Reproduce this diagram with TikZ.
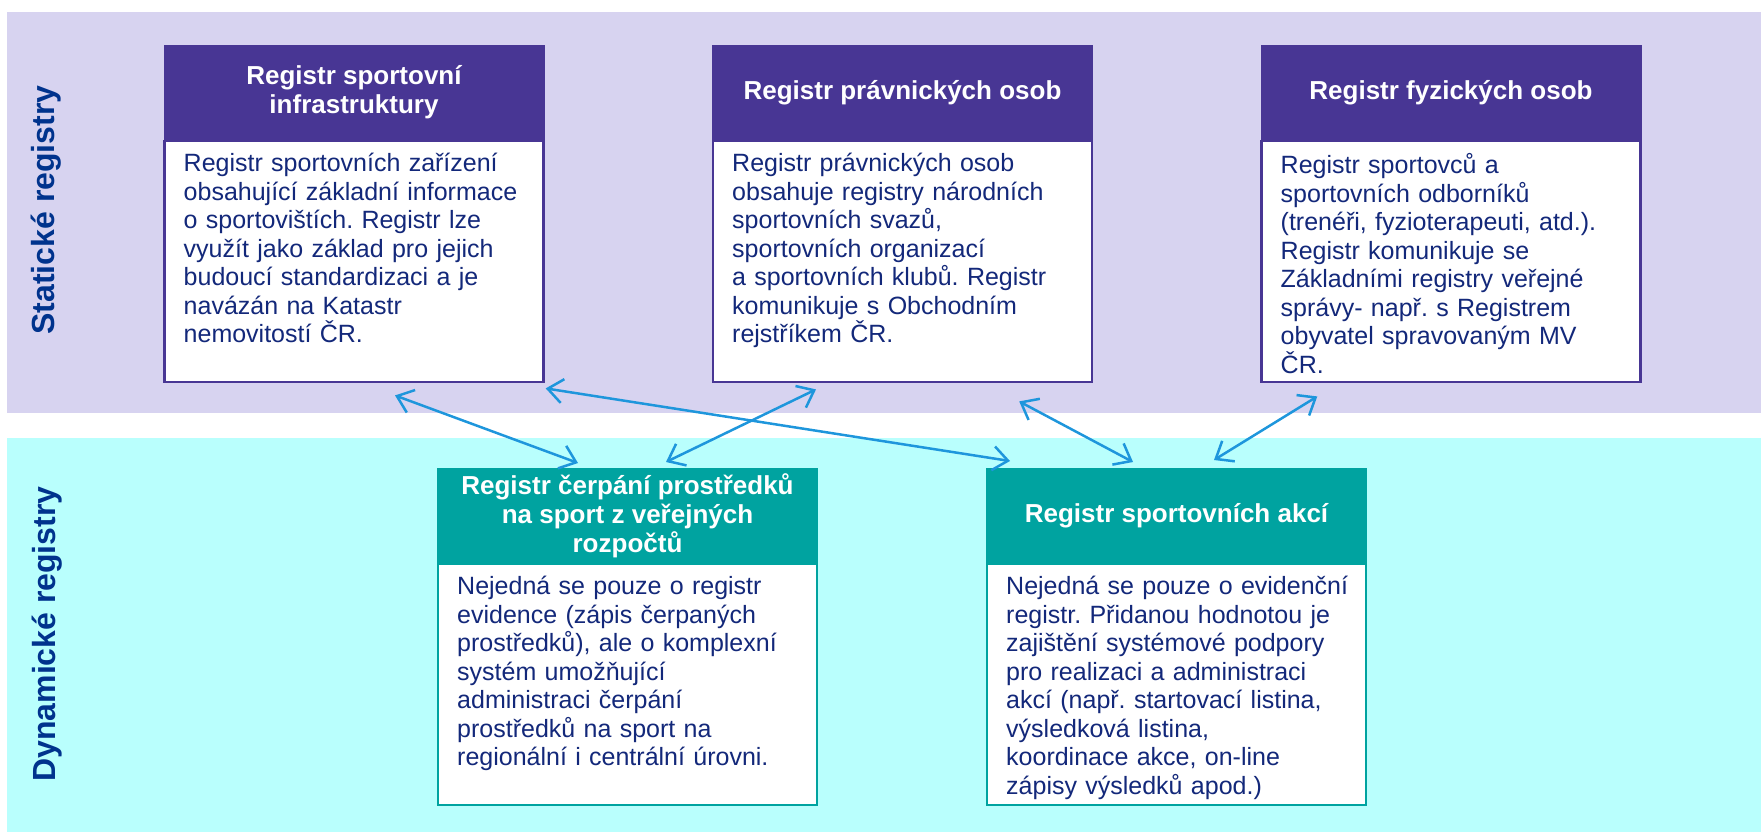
\documentclass[tikz,border=0pt]{standalone}
\usepackage{fontspec}
\setmainfont{Liberation Sans}
\usepackage{xcolor}
\usetikzlibrary{arrows.meta, positioning}
\definecolor{bandLav}{HTML}{D7D3F0}
\definecolor{bandCyan}{HTML}{B9FFFD}
\definecolor{regPurple}{HTML}{483694}
\definecolor{regTeal}{HTML}{00A3A0}
\definecolor{linkBlue}{HTML}{1E96DC}
\definecolor{textNavy}{HTML}{13287A}
\definecolor{labelBlue}{HTML}{00338D}
\frenchspacing
\hyphenpenalty=10000

\begin{document}
\begin{tikzpicture}[
  x=0.5pt, y=-0.5pt,
  head/.style={draw, line width=1pt, minimum width=189.5pt, minimum height=46.5pt, align=center, text=white, inner sep=2pt, font=\fontsize{13pt}{14.5pt}\selectfont\bfseries},
  stathead/.style={head, fill=regPurple, draw=regPurple},
  dynhead/.style={head, fill=regTeal, draw=regTeal},
  body/.style={draw, fill=white, line width=1.2pt, minimum width=189.5pt, minimum height=120.5pt},
  statbody/.style={body, draw=regPurple},
  dynbody/.style={body, draw=regTeal},
  bodytext/.style={anchor=north west, text width=182pt, align=left, inner xsep=10pt, inner ysep=6.5pt, text=textNavy, font=\fontsize{12.5pt}{14.25pt}\selectfont},
  bandlabel/.style={rotate=90, text=labelBlue, font=\fontsize{16pt}{18pt}\selectfont\bfseries},
  link/.style={<->, >={Straight Barb[length=7.5pt, width=12pt]}, draw=linkBlue, line width=1.25pt}
]
\useasboundingbox (0,0) rectangle (1761,832);

% Background bands
\fill[bandLav] (7,12) rectangle (1761,413);
\fill[bandCyan] (7,438) rectangle (1761,832);
\node[bandlabel] (staticLabel) at (46,210) {Statické registry};
\node[bandlabel] (dynamicLabel) at (47,634) {Dynamické registry};

% Top row: static registers
\node[stathead] (infraHead) at (354,92.5) {Registr sportovní\\infrastruktury};
\node[statbody, below=0pt of infraHead] (infraBody) {};
\node[bodytext] (infraText) at (infraBody.north west) {Registr sportovních zařízení\\obsahující základní informace\\o sportovištích. Registr lze\\využít jako základ pro jejich\\budoucí standardizaci a je\\navázán na Katastr\\nemovitostí ČR.};

\node[stathead] (legalHead) at (902.5,92.5) {Registr právnických osob};
\node[statbody, below=0pt of legalHead] (legalBody) {};
\node[bodytext] (legalText) at (legalBody.north west) {Registr právnických osob\\obsahuje registry národních\\sportovních svazů,\\sportovních organizací\\a sportovních klubů. Registr\\komunikuje s Obchodním\\rejstříkem ČR.};

\node[stathead] (personHead) at (1451,92.5) {Registr fyzických osob};
\node[statbody, below=0pt of personHead] (personBody) {};
\node[bodytext] (personText) at (personBody.north west) {Registr sportovců a\\sportovních odborníků\\(trenéři, fyzioterapeuti, atd.).\\Registr komunikuje se\\Základními registry veřejné\\správy- např. s Registrem\\obyvatel spravovaným MV\\ČR.};

% Bottom row: dynamic registers
\node[dynhead] (fundsHead) at (627.5,515.5) {Registr čerpání prostředků\\na sport z veřejných\\rozpočtů};
\node[dynbody, below=0pt of fundsHead] (fundsBody) {};
\node[bodytext] (fundsText) at (fundsBody.north west) {Nejedná se pouze o registr\\evidence (zápis čerpaných\\prostředků), ale o komplexní\\systém umožňující\\administraci čerpání\\prostředků na sport na\\regionální i centrální úrovni.};

\node[dynhead] (eventsHead) at (1176.5,515.5) {Registr sportovních akcí};
\node[dynbody, below=0pt of eventsHead] (eventsBody) {};
\node[bodytext] (eventsText) at (eventsBody.north west) {Nejedná se pouze o evidenční\\registr. Přidanou hodnotou je\\zajištění systémové podpory\\pro realizaci a administraci\\akcí (např. startovací listina,\\výsledková listina,\\koordinace akce, on-line\\zápisy výsledků apod.)};

% Links between registers
\draw[link] ([xshift=20.5pt, yshift=-6pt]infraBody.south) -- ([xshift=-24.75pt, yshift=2.5pt]fundsHead.north);
\draw[link] ([xshift=0.5pt, yshift=-2.5pt]infraBody.south east) -- ([xshift=12pt, yshift=3.5pt]eventsHead.north west);
\draw[link] ([xshift=-43.25pt, yshift=-3pt]legalBody.south) -- ([xshift=19.25pt, yshift=3pt]fundsHead.north);
\draw[link] ([xshift=-37pt, yshift=-9pt]legalBody.south east) -- ([xshift=-21.75pt, yshift=3pt]eventsHead.north);
\draw[link] ([xshift=28.5pt, yshift=-6.5pt]personBody.south west) -- ([xshift=18.75pt, yshift=4pt]eventsHead.north);

\end{tikzpicture}
\end{document}
